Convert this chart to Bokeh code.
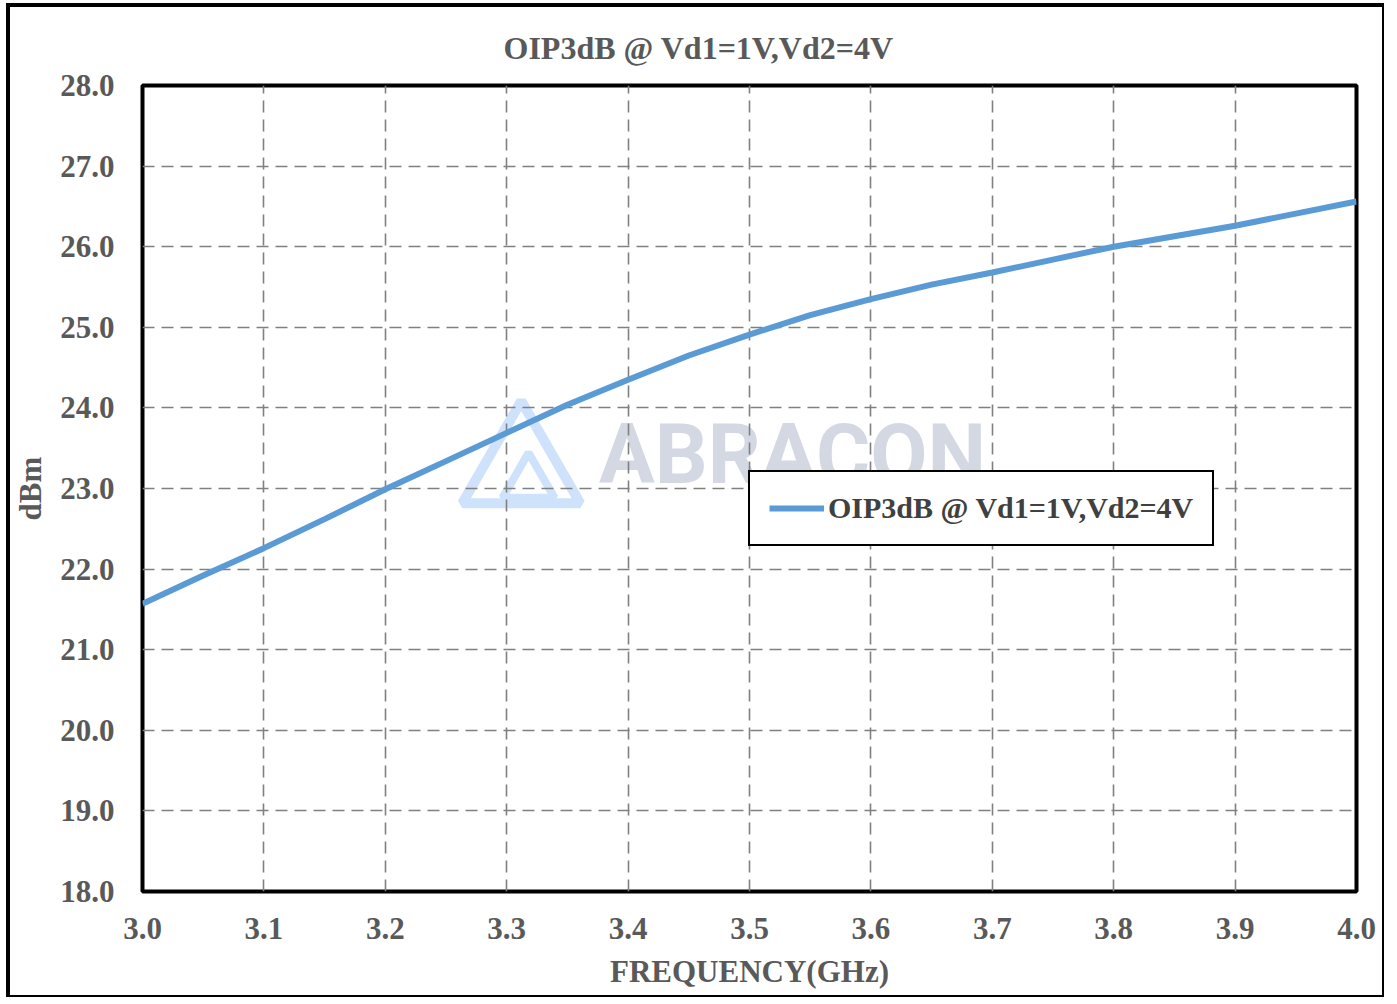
from bokeh.plotting import figure
from bokeh.models import FixedTicker, PrintfTickFormatter, Label, Legend, LegendItem
from bokeh.embed import file_html
from bokeh.resources import INLINE

# ---- data ----
freq_ghz = [3.0, 3.05, 3.1, 3.15, 3.2, 3.25, 3.3, 3.35, 3.4, 3.45, 3.5,
            3.55, 3.6, 3.65, 3.7, 3.75, 3.8, 3.85, 3.9, 3.95, 4.0]
oip3_dbm = [21.57, 21.92, 22.26, 22.62, 22.99, 23.34, 23.69, 24.04, 24.35, 24.65, 24.91,
            25.15, 25.35, 25.53, 25.68, 25.84, 26.00, 26.13, 26.26, 26.41, 26.56]

x_ticks = [3.0, 3.1, 3.2, 3.3, 3.4, 3.5, 3.6, 3.7, 3.8, 3.9, 4.0]
y_ticks = [18.0, 19.0, 20.0, 21.0, 22.0, 23.0, 24.0, 25.0, 26.0, 27.0, 28.0]

title_text = "OIP3dB @  Vd1=1V,Vd2=4V"
series_label = "OIP3dB @ Vd1=1V,Vd2=4V"
x_label = "FREQUENCY(GHz)"
y_label = "dBm"
watermark_text = "ABRACON"

SERIF = "Liberation Serif"
GRAY = "#595959"

p = figure(
    width=1378, height=994,
    x_range=(3.0, 4.0), y_range=(18.0, 28.0),
    output_backend="svg", toolbar_location=None,
    min_border_left=131, min_border_right=32,
    min_border_top=78, min_border_bottom=110,
    background_fill_color="white", border_fill_color="white",
)
p.styles = {
    "margin-left": "6px",
    "margin-top": "3px",
    "border-top": "4px solid black",
    "border-left": "4px solid black",
    "border-right": "2px solid black",
    "border-bottom": "2px solid black",
}

# title
p.title.text = title_text
p.title.align = "left"
p.title.offset = 361
p.title.standoff = 40
p.title.text_font = SERIF
p.title.text_font_style = "bold"
p.title.text_font_size = "32px"
p.title.text_color = GRAY

# frame
p.outline_line_color = "black"
p.outline_line_width = 4

# axes
p.xaxis.ticker = FixedTicker(ticks=x_ticks)
p.yaxis.ticker = FixedTicker(ticks=y_ticks)
p.xaxis.formatter = PrintfTickFormatter(format="%.1f")
p.yaxis.formatter = PrintfTickFormatter(format="%.1f")
p.xaxis.axis_label = x_label
p.yaxis.axis_label = y_label
for ax in (p.xaxis[0], p.yaxis[0]):
    ax.axis_line_color = None
    ax.major_tick_line_color = None
    ax.minor_tick_line_color = None
    ax.major_tick_in = 0
    ax.major_tick_out = 0
    ax.major_label_text_font = SERIF
    ax.major_label_text_font_style = "bold"
    ax.major_label_text_font_size = "31px"
    ax.major_label_text_color = GRAY
    ax.axis_label_text_font = SERIF
    ax.axis_label_text_font_style = "bold"
    ax.axis_label_text_font_size = "31px"
    ax.axis_label_text_color = GRAY
p.xaxis.major_label_standoff = 26
p.xaxis.axis_label_standoff = 12
p.yaxis.major_label_standoff = 28
p.yaxis.axis_label_standoff = 9

# grid
for g in (p.xgrid[0], p.ygrid[0]):
    g.grid_line_color = "#808080"
    g.grid_line_width = 1.6
    g.grid_line_dash = "12 7"

# watermark (under the grid)
p.scatter(x=[3.312], y=[23.24], marker="triangle", size=118,
          fill_color=None, line_color="#cfe2fb", line_width=10, level="image")
p.scatter(x=[3.318], y=[23.07], marker="triangle", size=52,
          fill_color=None, line_color="#cfe2fb", line_width=8, level="image")
wm = Label(x=3.376, y=23.42, text=watermark_text, text_font="Roboto",
           text_font_style="bold", text_font_size="83px", text_color="#d3d8e3",
           text_baseline="middle", level="image")
p.add_layout(wm)

# series
r = p.line(freq_ghz, oip3_dbm, line_color="#5b9bd5", line_width=6)

legend = Legend(items=[LegendItem(label=series_label, renderers=[r])],
                location=(606, 345))
legend.padding = 19
legend.margin = 0
legend.spacing = 0
legend.glyph_width = 55
legend.glyph_height = 30
legend.label_height = 30
legend.label_standoff = 4
legend.label_text_font = SERIF
legend.label_text_font_style = "bold"
legend.label_text_font_size = "30px"
legend.label_text_color = "#404040"
legend.border_line_color = "black"
legend.border_line_alpha = 1.0
legend.border_line_width = 2
legend.background_fill_color = "white"
legend.background_fill_alpha = 1.0
p.add_layout(legend)

open("out.html", "w").write(file_html(p, INLINE))
